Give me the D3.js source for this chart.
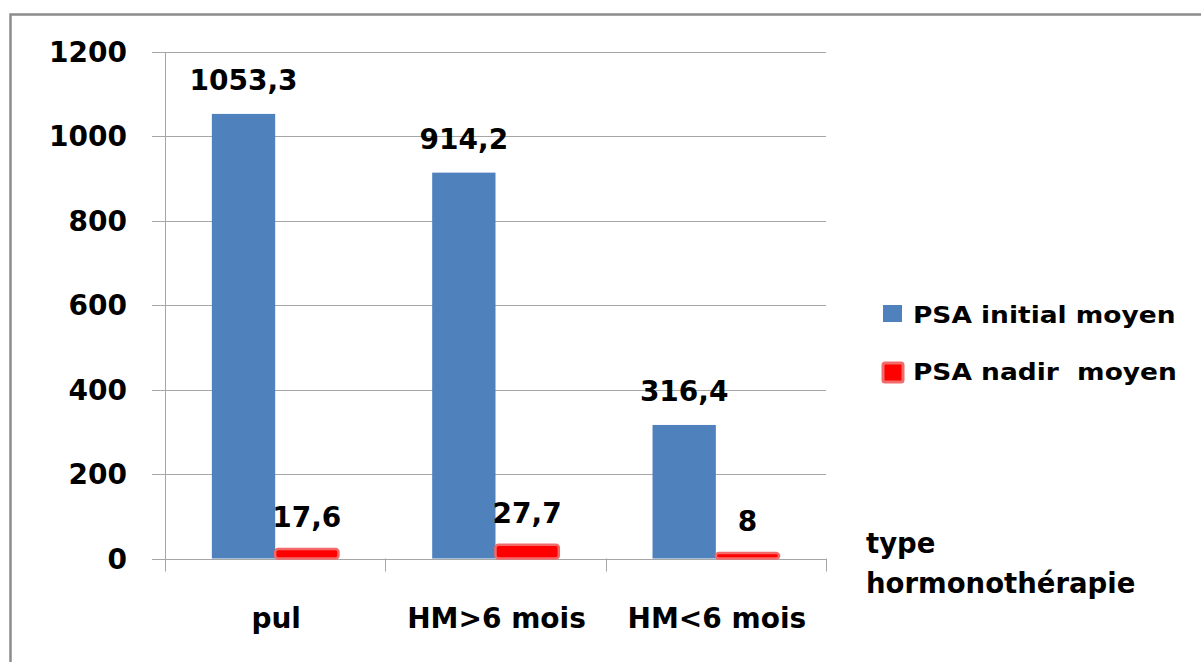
<!DOCTYPE html>
<html>
<head>
<meta charset="utf-8">
<script src="https://cdn.jsdelivr.net/npm/d3@7"></script>
<style>
  body { margin: 0; background: #fff; }
  svg { display: block; }
  text { font-family: "DejaVu Sans", sans-serif; font-weight: bold; fill: #000; }
</style>
</head>
<body>
<svg id="chart"></svg>
<script>
// chart data
var categories = ["pul", "HM>6 mois", "HM<6 mois"];
var initialValues = [1053.3, 914.2, 316.4];
var nadirValues = [17.6, 27.7, 8];
var valueLabels = [["1053,3", "914,2", "316,4"], ["17,6", "27,7", "8"]];
var seriesNames = ["PSA initial moyen", "PSA nadir  moyen"];
var yTicks = [0, 200, 400, 600, 800, 1000, 1200];

(function () {
  var width = 1201, height = 662;
  var left = 165, right = 826, top = 52, bottom = 558.5;
  var colors = ["#4F81BD", "#FF0000"];
  var glow = "#f26a6a";

  var svg = d3.select("#chart").attr("width", width).attr("height", height);

  // outer frame (only top and left edges visible)
  svg.append("path")
    .attr("d", "M10.5," + height + "V14.5H" + width)
    .attr("fill", "none")
    .attr("stroke", "#8c8c8c")
    .attr("stroke-width", 2.5);

  var y = d3.scaleLinear().domain([0, 1200]).range([bottom, top]);
  var x = d3.scaleBand().domain(categories).range([left, right]);
  var inner = d3.scaleBand().domain([0, 1]).range([0, x.bandwidth()]).paddingOuter(0.74);

  // gridlines + y ticks
  svg.append("g").selectAll("line").data(yTicks).enter().append("line")
    .attr("x1", left - 13).attr("x2", right)
    .attr("y1", function (d) { return Math.round(y(d)) + 0.5; })
    .attr("y2", function (d) { return Math.round(y(d)) + 0.5; })
    .attr("stroke", "#a6a6a6");

  svg.append("g").selectAll("text").data(yTicks).enter().append("text")
    .attr("x", 127)
    .attr("y", function (d) { return y(d); })
    .attr("dy", "0.36em")
    .attr("text-anchor", "end")
    .style("font-size", "28px")
    .text(function (d) { return d; });

  // y axis line
  svg.append("line")
    .attr("x1", left + 0.5).attr("x2", left + 0.5)
    .attr("y1", top).attr("y2", bottom + 13)
    .attr("stroke", "#a6a6a6");

  // category ticks on x axis
  var xTicks = categories.map(function (c) { return x(c); }).concat([right]);
  svg.append("g").selectAll("line").data(xTicks.slice(1)).enter().append("line")
    .attr("x1", function (d) { return Math.round(d) + 0.5; })
    .attr("x2", function (d) { return Math.round(d) + 0.5; })
    .attr("y1", bottom).attr("y2", bottom + 13)
    .attr("stroke", "#a6a6a6");

  // bars
  var series = [initialValues, nadirValues];
  series.forEach(function (vals, s) {
    var g = svg.append("g");
    var bars = g.selectAll("rect").data(vals).enter().append("rect")
      .attr("x", function (d, i) { return x(categories[i]) + inner(s); })
      .attr("width", inner.bandwidth())
      .attr("y", function (d) { return y(d); })
      .attr("height", function (d) { return bottom - y(d); })
      .attr("fill", colors[s]);
    if (s === 1) {
      bars.attr("rx", 3)
        .attr("y", function (d) { return y(d) - 2; })
        .attr("height", function (d) { return bottom - y(d) + 2; })
        .attr("stroke", glow)
        .attr("stroke-width", 2.5);
    }
    g.selectAll("text").data(vals).enter().append("text")
      .attr("x", function (d, i) { return x(categories[i]) + inner(s) + inner.bandwidth() / 2; })
      .attr("y", function (d) { return y(d) - 24; })
      .attr("text-anchor", "middle")
      .style("font-size", "28px")
      .text(function (d, i) { return valueLabels[s][i]; });
  });

  // category labels
  svg.append("g").selectAll("text").data(categories).enter().append("text")
    .attr("x", function (d) { return x(d) + x.bandwidth() / 2 + 1; })
    .attr("y", 628)
    .attr("text-anchor", "middle")
    .style("font-size", "28px")
    .text(function (d) { return d; });

  // axis title
  svg.append("text").attr("x", 866).attr("y", 553).style("font-size", "27.5px").text("type");
  svg.append("text").attr("x", 866).attr("y", 593).style("font-size", "27.5px").text("hormonothérapie");

  // legend
  var legend = svg.append("g").selectAll("g").data(seriesNames).enter().append("g")
    .attr("transform", function (d, i) { return "translate(883," + (305 + i * 57) + ")"; });
  legend.append("rect")
    .attr("y", function (d, i) { return i ? 1 : 0; })
    .attr("width", function (d, i) { return i ? 20 : 19; })
    .attr("height", function (d, i) { return i ? 19 : 17; })
    .attr("rx", function (d, i) { return i ? 2 : 0; })
    .attr("fill", function (d, i) { return colors[i]; })
    .attr("stroke", function (d, i) { return i ? glow : "none"; })
    .attr("stroke-width", 3);
  legend.append("text")
    .attr("transform", "translate(30,18) scale(1.15,1)")
    .style("font-size", "23px")
    .style("white-space", "pre")
    .text(function (d) { return d; });
}());
</script>
</body>
</html>
